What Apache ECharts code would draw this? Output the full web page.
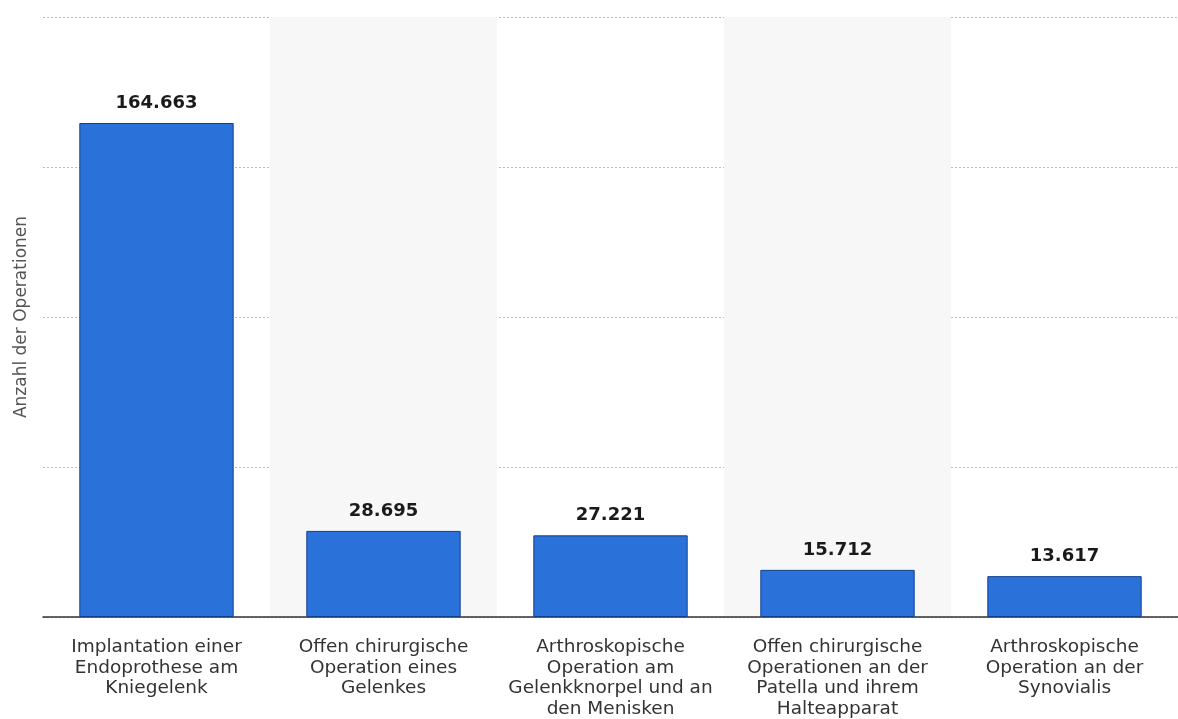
<!DOCTYPE html>
<html>
<head>
<meta charset="utf-8">
<script src="https://cdn.jsdelivr.net/npm/echarts@6/dist/echarts.min.js"></script>
<style>html,body{margin:0;padding:0;background:#fff;}#c{width:1178px;height:719px;}</style>
</head>
<body>
<div id="c"></div>
<script>
var categories = [
  "Implantation einer\nEndoprothese am\nKniegelenk",
  "Offen chirurgische\nOperation eines\nGelenkes",
  "Arthroskopische\nOperation am\nGelenkknorpel und an\nden Menisken",
  "Offen chirurgische\nOperationen an der\nPatella und ihrem\nHalteapparat",
  "Arthroskopische\nOperation an der\nSynovialis"
];
var values = [164663, 28695, 27221, 15712, 13617];
var yAxisTitle = "Anzahl der Operationen";

function fmt(v) {
  return String(v).replace(/\B(?=(\d{3})+(?!\d))/g, ".");
}

var chart = echarts.init(document.getElementById('c'));
chart.setOption({
  animation: false,
  backgroundColor: '#ffffff',
  grid: { left: 43, right: 0, top: 17, bottom: 102 },
  xAxis: {
    type: 'category',
    data: categories,
    axisLine: { show: true, lineStyle: { color: '#333333', width: 1.5 } },
    axisTick: { show: false },
    axisLabel: {
      interval: 0,
      color: '#333333',
      fontFamily: 'DejaVu Sans',
      fontSize: 18.5,
      lineHeight: 20.5,
      margin: 20
    },
    splitArea: { show: true, interval: 0, areaStyle: { color: ['rgba(255,255,255,0)', '#f7f7f7'] } }
  },
  yAxis: {
    type: 'value',
    min: 0,
    max: 200000,
    interval: 50000,
    name: yAxisTitle,
    nameLocation: 'middle',
    nameGap: 13,
    nameTextStyle: { color: '#555555', fontFamily: 'DejaVu Sans', fontSize: 17 },
    axisLabel: { show: false },
    axisLine: { show: false },
    axisTick: { show: false },
    splitLine: { show: true, lineStyle: { color: '#bbbbbb', type: [2, 2], width: 1 } }
  },
  series: [{
    type: 'bar',
    data: values,
    barWidth: '68%',
    itemStyle: { color: '#2a72da', borderColor: '#123f8f', borderWidth: 1 },
    label: {
      show: true,
      position: 'top',
      distance: 11,
      formatter: function (p) { return fmt(p.value); },
      color: '#1a1a1a',
      fontFamily: 'DejaVu Sans',
      fontWeight: 'bold',
      fontSize: 18
    }
  }]
});
</script>
</body>
</html>
